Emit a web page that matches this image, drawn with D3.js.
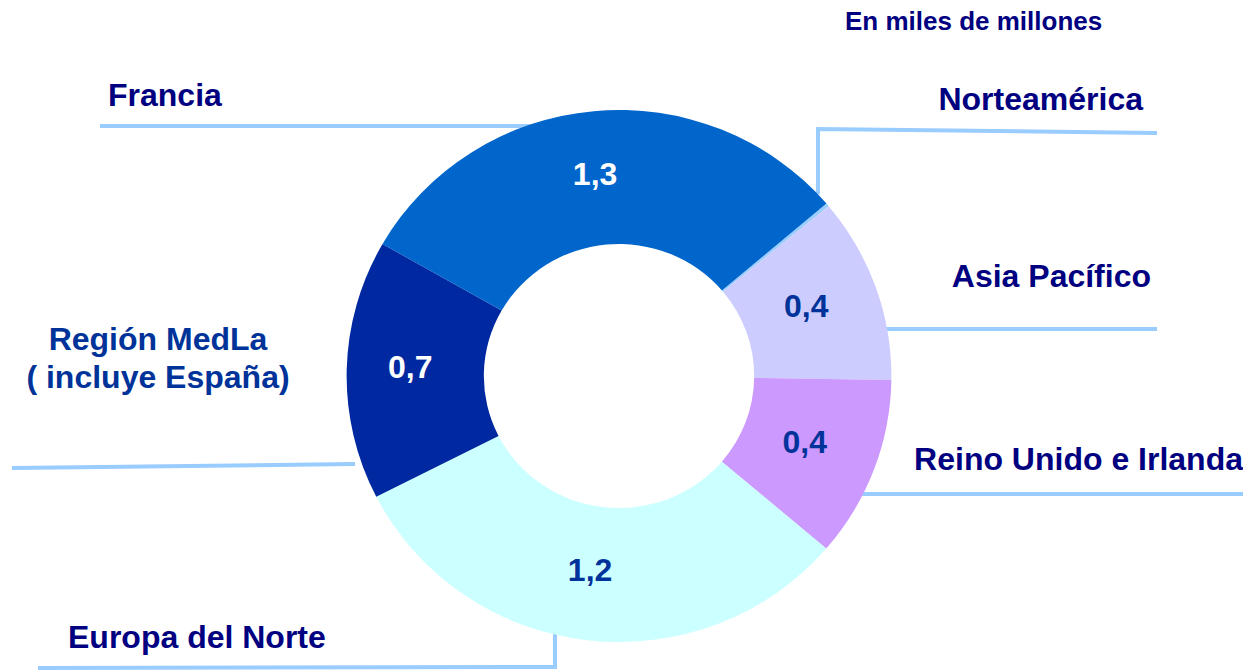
<!DOCTYPE html>
<html>
<head>
<meta charset="utf-8">
<script src="https://cdn.jsdelivr.net/npm/d3@7"></script>
<style>
  body { margin: 0; background: #fff; }
  text { font-family: "Liberation Sans", Arial, sans-serif; font-weight: bold; }
</style>
</head>
<body>
<div id="chart"></div>
<script>
(function(d3) {
  'use strict';

  // slices clockwise, starting just right of the top
  var categories = ['Norteamérica', 'Asia Pacífico', 'Reino Unido e Irlanda',
    'Europa del Norte', 'Región MedLa', 'Francia'];
  var values = [0.008, 0.45, 0.44, 1.25, 0.63, 1.22];
  var valueLabels = ['', '0,4', '0,4', '1,2', '0,7', '1,3'];
  var colors = ['#99CCFF', '#CCCCFF', '#CC99FF', '#CCFFFF', '#0028A0', '#0066CC'];

  var width = 1243;
  var height = 671;
  var cx = 619, cy = 376;
  var outerR = 266, innerR = 132;
  var stretch = 1.024; // the original ring is a bit wider than tall
  var startAngle = 49.6 * Math.PI / 180;

  var svg = d3.select('#chart')
    .append('svg')
    .attr('width', width)
    .attr('height', height);

  var data = categories.map(function(c, i) {
    return { name: c, value: values[i], label: valueLabels[i], color: colors[i] };
  });

  var pie = d3.pie()
    .value(function(d) { return d.value; })
    .sort(null)
    .startAngle(startAngle)
    .endAngle(startAngle + 2 * Math.PI);

  var arc = d3.arc()
    .innerRadius(innerR)
    .outerRadius(outerR);

  var arcs = pie(data);

  // leader lines (drawn under the ring)
  var lineColor = '#99CCFF';
  function ringX(y, side) {
    var t = (y - cy) / outerR;
    return cx + side * outerR * stretch * Math.sqrt(Math.max(0, 1 - t * t));
  }
  function ringY(x, side) {
    var t = (x - cx) / (outerR * stretch);
    return cy + side * outerR * Math.sqrt(Math.max(0, 1 - t * t));
  }

  var leaders = [
    // Norteamérica: up from the ring, then right
    [[818, ringY(818, -1)], [818, 129], [1157, 133]],
    // Asia Pacífico
    [[ringX(329, 1) - 2, 329], [1157, 329]],
    // Reino Unido e Irlanda
    [[ringX(494, 1) - 2, 494], [1243, 494]],
    // Europa del Norte: down from the ring, then left
    [[555, ringY(555, 1) - 2], [555, 667], [38, 668]],
    // Región MedLa
    [[ringX(464, -1) - 7, 464], [12, 468]],
    // Francia
    [[ringX(126, -1) + 4, 126], [100, 126]]
  ];

  var line = d3.line();
  svg.append('g')
    .selectAll('path')
    .data(leaders)
    .enter()
    .append('path')
    .attr('d', line)
    .attr('fill', 'none')
    .attr('stroke', lineColor)
    .attr('stroke-width', 4);

  var ring = svg.append('g')
    .attr('transform', 'translate(' + cx + ',' + cy + ') scale(' + stretch + ',1)');

  ring.selectAll('path')
    .data(arcs)
    .enter()
    .append('path')
    .attr('d', arc)
    .attr('fill', function(d) { return d.data.color; });

  // value labels at slice centroids
  var dark = { '#0028A0': true, '#0066CC': true };
  svg.append('g')
    .selectAll('text')
    .data(arcs.filter(function(d) { return d.data.label; }))
    .enter()
    .append('text')
    .attr('x', function(d) { return cx + arc.centroid(d)[0] * stretch - 5; })
    .attr('y', function(d) { return cy + arc.centroid(d)[1] - 4; })
    .attr('dy', '0.35em')
    .attr('text-anchor', 'middle')
    .style('font-size', '32px')
    .style('fill', function(d) { return dark[d.data.color] ? '#FFFFFF' : '#003399'; })
    .text(function(d) { return d.data.label; });

  // category labels
  var names = [
    { t: ['Norteamérica'], x: 1143, y: 110, anchor: 'end', fill: '#000080' },
    { t: ['Asia Pacífico'], x: 1151, y: 287, anchor: 'end', fill: '#000080' },
    { t: ['Reino Unido e Irlanda'], x: 1243, y: 470, anchor: 'end', fill: '#000080' },
    { t: ['Europa del Norte'], x: 68, y: 648, anchor: 'start', fill: '#000080' },
    { t: ['Región MedLa', '( incluye España)'], x: 158, y: 350, anchor: 'middle', fill: '#003399' },
    { t: ['Francia'], x: 108, y: 106, anchor: 'start', fill: '#000080' }
  ];

  var nameText = svg.append('g')
    .selectAll('text')
    .data(names)
    .enter()
    .append('text')
    .attr('x', function(d) { return d.x; })
    .attr('y', function(d) { return d.y; })
    .attr('text-anchor', function(d) { return d.anchor; })
    .style('font-size', '32px')
    .style('fill', function(d) { return d.fill; });

  nameText.selectAll('tspan')
    .data(function(d) { return d.t.map(function(s) { return { s: s, x: d.x }; }); })
    .enter()
    .append('tspan')
    .attr('x', function(d) { return d.x; })
    .attr('dy', function(d, i) { return i === 0 ? 0 : 38; })
    .text(function(d) { return d.s; });

  svg.append('text')
    .attr('x', 845)
    .attr('y', 30)
    .style('font-size', '26px')
    .style('fill', '#000080')
    .text('En miles de millones');

})(window.d3);
</script>
</body>
</html>
